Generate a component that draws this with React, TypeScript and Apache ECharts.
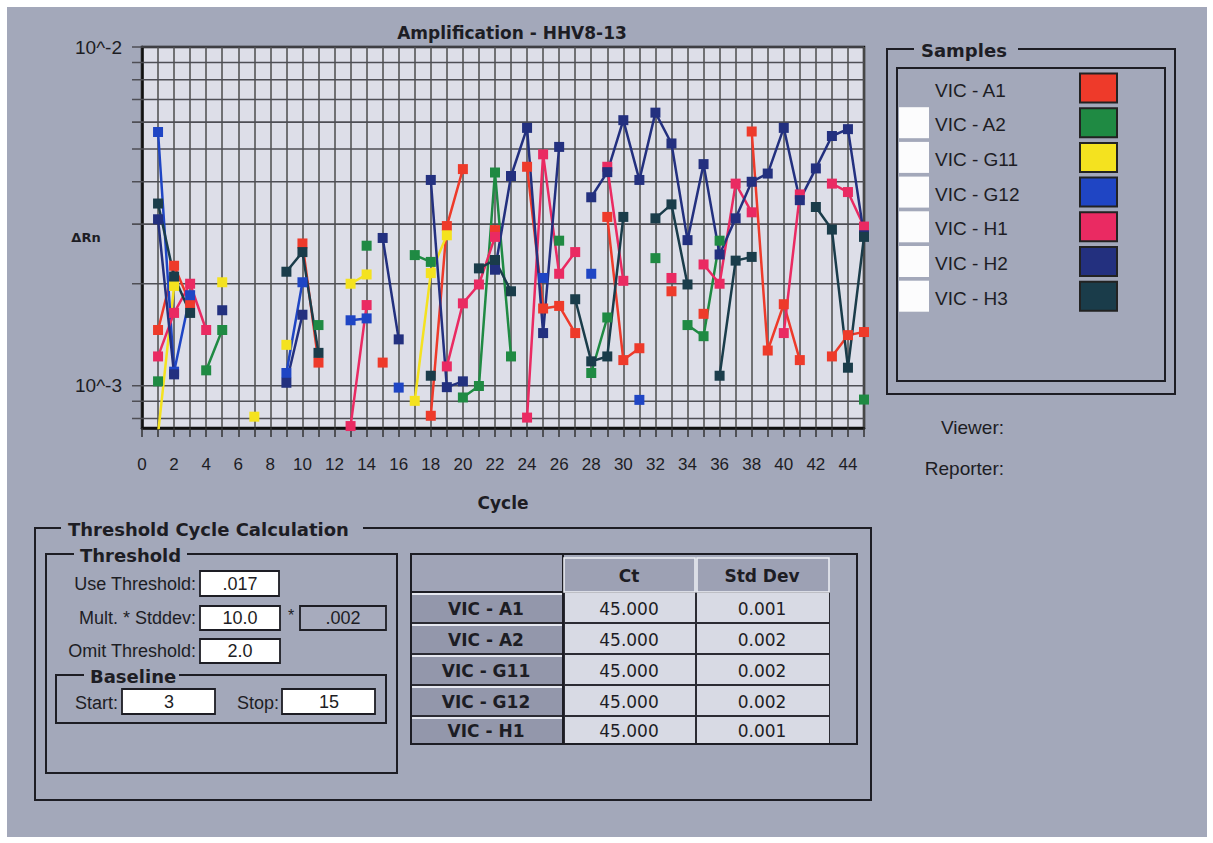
import React, { useEffect, useRef } from "react";
import * as echarts from "echarts";

// ---------- data ----------
const seriesNames = ["VIC - A1", "VIC - A2", "VIC - G11", "VIC - G12", "VIC - H1", "VIC - H2", "VIC - H3"];
const seriesColors = ["#ee3a2a", "#1f8a43", "#f4e21f", "#1f45c4", "#ea2a62", "#23307f", "#1a3c4a"];

// [cycle, ΔRn]
const A1: [number, number][] = [[1,1.46e-3],[2,2.26e-3],[3,1.75e-3],[10,2.63e-3],[11,1.17e-3],[15,1.17e-3],[18,8.15e-4],[19,2.96e-3],[20,4.36e-3],[22,2.88e-3],[24,4.43e-3],[25,1.69e-3],[26,1.72e-3],[27,1.43e-3],[29,3.15e-3],[30,1.19e-3],[31,1.29e-3],[33,1.9e-3],[35,1.63e-3],[38,5.63e-3],[39,1.27e-3],[40,1.74e-3],[41,1.19e-3],[43,1.22e-3],[44,1.41e-3],[45,1.44e-3]];
const A2: [number, number][] = [[1,1.03e-3],[4,1.11e-3],[5,1.46e-3],[11,1.51e-3],[14,2.59e-3],[17,2.43e-3],[18,2.32e-3],[20,9.23e-4],[21,9.98e-4],[22,4.26e-3],[23,1.22e-3],[26,2.68e-3],[28,1.09e-3],[29,1.59e-3],[32,2.38e-3],[34,1.51e-3],[35,1.4e-3],[36,2.68e-3],[45,9.1e-4]];
const G11: [number, number][] = [[1,7.2e-4],[2,1.97e-3],[5,2.02e-3],[7,8.1e-4],[9,1.32e-3],[13,2.0e-3],[14,2.13e-3],[17,9.02e-4],[18,2.15e-3],[19,2.78e-3]];
const G12: [number, number][] = [[1,5.61e-3],[2,1.1e-3],[3,1.85e-3],[9,1.09e-3],[10,2.02e-3],[13,1.56e-3],[14,1.58e-3],[16,9.87e-4],[25,2.08e-3],[28,2.14e-3],[31,9.08e-4]];
const H1: [number, number][] = [[1,1.22e-3],[2,1.64e-3],[3,2.0e-3],[4,1.46e-3],[13,7.6e-4],[14,1.73e-3],[19,1.14e-3],[20,1.75e-3],[21,1.99e-3],[22,2.75e-3],[24,8.05e-4],[25,4.82e-3],[26,2.14e-3],[27,2.48e-3],[29,4.43e-3],[30,2.04e-3],[33,2.08e-3],[35,2.28e-3],[36,2.0e-3],[37,3.95e-3],[38,3.25e-3],[40,1.43e-3],[41,3.67e-3],[43,3.95e-3],[44,3.73e-3],[45,2.95e-3]];
const H2: [number, number][] = [[1,3.1e-3],[2,1.08e-3],[5,1.67e-3],[9,1.02e-3],[10,1.62e-3],[15,2.73e-3],[16,1.37e-3],[18,4.05e-3],[19,9.9e-4],[20,1.03e-3],[22,2.2e-3],[23,4.16e-3],[24,5.77e-3],[25,1.43e-3],[26,5.07e-3],[28,3.6e-3],[29,4.27e-3],[30,6.08e-3],[31,4.05e-3],[32,6.4e-3],[33,5.19e-3],[34,2.69e-3],[35,4.51e-3],[36,2.44e-3],[37,3.12e-3],[38,4.0e-3],[39,4.23e-3],[40,5.77e-3],[41,3.53e-3],[42,4.38e-3],[43,5.46e-3],[44,5.72e-3],[45,2.78e-3]];
const H3: [number, number][] = [[1,3.45e-3],[2,2.1e-3],[3,1.64e-3],[9,2.17e-3],[10,2.48e-3],[11,1.25e-3],[18,1.07e-3],[21,2.22e-3],[22,2.35e-3],[23,1.9e-3],[27,1.8e-3],[28,1.18e-3],[29,1.22e-3],[30,3.15e-3],[32,3.12e-3],[33,3.43e-3],[34,1.99e-3],[36,1.07e-3],[37,2.34e-3],[38,2.4e-3],[42,3.37e-3],[43,2.89e-3],[44,1.13e-3],[45,2.75e-3]];
const seriesData = [A1, A2, G11, G12, H1, H2, H3];

const cycleMin = 0;
const cycleMax = 45;
const yMin = 0.00075;
const yMax = 0.01;
const gridValues = [0.0008, 0.0009, 0.001, 0.002, 0.003, 0.004, 0.005, 0.006, 0.007, 0.008, 0.009, 0.01];

const tableRows = ["VIC - A1", "VIC - A2", "VIC - G11", "VIC - G12", "VIC - H1"];
const ctValues = ["45.000", "45.000", "45.000", "45.000", "45.000"];
const stdDevValues = ["0.001", "0.002", "0.002", "0.002", "0.001"];

const useThreshold = ".017";
const multStddev = "10.0";
const stddevValue = ".002";
const omitThreshold = "2.0";
const baselineStart = "3";
const baselineStop = "15";

// ---------- styling ----------
const DJ = '"DejaVu Sans", sans-serif';
const LS = '"Liberation Sans", Arial, sans-serif';
const INK = "#1d1d24";
const PANEL = "#a3a8ba";

function txt(x: number, y: number, t: string, size: number, o: any = {}) {
  return {
    type: "text",
    x,
    y,
    silent: true,
    z: 7,
    style: {
      text: t,
      fill: o.fill || INK,
      fontSize: size,
      fontWeight: o.bold ? "bold" : "normal",
      fontFamily: o.family || LS,
      textAlign: o.align || "left",
      textVerticalAlign: "middle",
    },
  };
}
function box(x: number, y: number, w: number, h: number, o: any = {}) {
  return {
    type: "rect",
    silent: true,
    z: o.z ?? 5,
    shape: { x, y, width: w, height: h },
    style: { fill: o.fill ?? "none", stroke: o.stroke ?? INK, lineWidth: o.lw ?? 2 },
  };
}
function hline(x1: number, y: number, x2: number, color: string, w: number) {
  return { type: "line", silent: true, z: 6, shape: { x1, y1: y, x2, y2: y }, style: { stroke: color, lineWidth: w } };
}

function buildSeries(pairs: [number, number][]) {
  const map = new Map(pairs.map((p) => [p[0], p[1]]));
  const out: any[] = [];
  for (let c = cycleMin; c <= cycleMax; c++) {
    out.push(map.has(c) ? [c, map.get(c)] : [c, "-"]);
  }
  return out;
}

function buildGraphics() {
  const el: any[] = [];
  // Samples panel
  el.push(box(887, 49, 288, 345));
  el.push(box(897, 68, 268, 313));
  el.push(box(914, 40, 104, 18, { fill: PANEL, stroke: "none", lw: 0, z: 6 }));
  el.push(txt(921, 50, "Samples", 18, { bold: true, family: DJ }));
  seriesNames.forEach((name, i) => {
    const cy = 88 + i * 34.7;
    if (i > 0) el.push(box(899, cy - 15.5, 30, 31, { fill: "#fcfcfd", stroke: "none", lw: 0 }));
    el.push(txt(935, cy + 2, name, 19));
    el.push(box(1080, cy - 14.5, 37, 29, { fill: seriesColors[i], stroke: "#222", lw: 2 }));
  });
  el.push(txt(1004, 427, "Viewer:", 19, { align: "right" }));
  el.push(txt(1004, 468, "Reporter:", 19, { align: "right" }));

  // Threshold Cycle Calculation panel
  el.push(box(35, 528, 836, 272));
  el.push(box(61, 519, 302, 18, { fill: PANEL, stroke: "none", lw: 0, z: 6 }));
  el.push(txt(68, 529, "Threshold Cycle Calculation", 18, { bold: true, family: DJ }));

  el.push(box(46, 554, 351, 219));
  el.push(box(74, 546, 113, 17, { fill: PANEL, stroke: "none", lw: 0, z: 6 }));
  el.push(txt(80, 555, "Threshold", 18, { bold: true, family: DJ }));

  el.push(txt(196, 584, "Use Threshold:", 18, { align: "right" }));
  el.push(box(200, 571, 79, 25, { fill: "#ffffff", lw: 1.8 }));
  el.push(txt(240, 584, useThreshold, 18, { align: "center" }));

  el.push(txt(196, 618, "Mult. * Stddev:", 18, { align: "right" }));
  el.push(box(200, 606, 80, 24, { fill: "#ffffff", lw: 1.8 }));
  el.push(txt(240, 618, multStddev, 18, { align: "center" }));
  el.push(txt(291, 615, "*", 16, { align: "center" }));
  el.push(box(300, 606, 86, 24, { fill: "#a7abbd", lw: 1.8 }));
  el.push(txt(343, 618, stddevValue, 18, { align: "center" }));

  el.push(txt(196, 651, "Omit Threshold:", 18, { align: "right" }));
  el.push(box(200, 639, 80, 24, { fill: "#ffffff", lw: 1.8 }));
  el.push(txt(240, 651, omitThreshold, 18, { align: "center" }));

  el.push(box(56, 675, 330, 48));
  el.push(box(84, 667, 95, 17, { fill: PANEL, stroke: "none", lw: 0, z: 6 }));
  el.push(txt(90, 676, "Baseline", 18, { bold: true, family: DJ }));
  el.push(txt(118, 703, "Start:", 18, { align: "right" }));
  el.push(box(122, 689, 93, 25, { fill: "#ffffff", lw: 1.8 }));
  el.push(txt(169, 702, baselineStart, 18, { align: "center" }));
  el.push(txt(279, 703, "Stop:", 18, { align: "right" }));
  el.push(box(282, 689, 93, 25, { fill: "#ffffff", lw: 1.8 }));
  el.push(txt(329, 702, baselineStop, 18, { align: "center" }));

  // table
  el.push(box(411, 554, 446, 190, { fill: PANEL }));
  el.push(box(412, 592, 418, 151, { fill: "#2b2b33", stroke: "none", lw: 0, z: 5 }));
  el.push(box(412, 555, 150, 36, { fill: "#a0a4b7", stroke: "none", lw: 0, z: 6 }));
  el.push(hline(411, 592, 563, INK, 2));
  el.push({ type: "line", silent: true, z: 6, shape: { x1: 563, y1: 555, x2: 563, y2: 743 }, style: { stroke: INK, lineWidth: 2 } });
  el.push(box(564, 558, 131, 34, { fill: "#9da1b4", stroke: "#eef0f5", lw: 1.5, z: 6 }));
  el.push(box(697, 558, 132, 34, { fill: "#9da1b4", stroke: "#eef0f5", lw: 1.5, z: 6 }));
  el.push(txt(629, 576, "Ct", 17, { bold: true, family: DJ, align: "center" }));
  el.push(txt(762, 576, "Std Dev", 17, { bold: true, family: DJ, align: "center" }));
  tableRows.forEach((name, r) => {
    const y0 = 593 + r * 31;
    const h = Math.min(29, 743 - y0);
    el.push(box(412, y0 + 1, 150, h - 1, { fill: "#9397ab", stroke: "none", lw: 0, z: 6 }));
    el.push(hline(412, y0 + 1, 562, "#e6e8f0", 2));
    el.push(box(565, y0, 130, h, { fill: "#d8dae4", stroke: "none", lw: 0, z: 6 }));
    el.push(box(697, y0, 132, h, { fill: "#d8dae4", stroke: "none", lw: 0, z: 6 }));
    const cy = y0 + h / 2 + 1;
    el.push(txt(486, cy, name, 17, { bold: true, family: DJ, align: "center" }));
    el.push(txt(629, cy, ctValues[r], 17, { family: DJ, align: "center" }));
    el.push(txt(762, cy, stdDevValues[r], 17, { family: DJ, align: "center" }));
  });

  // y-axis name
  el.push(txt(86, 237, "ΔRn", 13, { bold: true, family: DJ, align: "center" }));
  return el;
}

export default function App() {
  const ref = useRef<HTMLDivElement>(null);
  useEffect(() => {
    if (!ref.current) return;
    const chart = echarts.init(ref.current, undefined, { renderer: "svg" });
    const lineSeries = seriesNames.map((name, i) => ({
      type: "line",
      name,
      data: buildSeries(seriesData[i]),
      symbol: "rect",
      symbolSize: 10,
      showSymbol: true,
      connectNulls: false,
      clip: true,
      z: 3,
      itemStyle: { color: seriesColors[i] },
      lineStyle: { color: seriesColors[i], width: 2.5 },
      emphasis: { disabled: true },
    }));
    chart.setOption({
      animation: false,
      title: {
        text: "Amplification - HHV8-13",
        left: 507,
        top: 19,
        textAlign: "center",
        textStyle: { fontFamily: DJ, fontSize: 17, fontWeight: "bold", color: INK },
      },
      grid: {
        left: 142,
        top: 47,
        width: 722,
        height: 381,
        show: true,
        backgroundColor: "#dddee8",
        borderColor: "#111",
        borderWidth: 2.5,
      },
      xAxis: {
        type: "value",
        min: cycleMin,
        max: cycleMax,
        interval: 1,
        name: "Cycle",
        nameLocation: "middle",
        nameGap: 66,
        nameTextStyle: { fontFamily: DJ, fontSize: 17, fontWeight: "bold", color: INK },
        axisLine: { show: true, lineStyle: { color: "#111", width: 2.5 } },
        axisTick: { show: true, length: 9, lineStyle: { color: "#333", width: 1.5 } },
        axisLabel: {
          formatter: (v: number) => (v % 2 === 0 && v <= 44 ? String(v) : ""),
          fontFamily: LS,
          fontSize: 17,
          color: INK,
          margin: 28,
        },
        splitLine: { show: true, lineStyle: { color: "#555", width: 1.6 } },
      },
      yAxis: {
        type: "log",
        logBase: 10,
        min: yMin,
        max: yMax,
        axisLine: { show: true, lineStyle: { color: "#111", width: 2.5 } },
        axisTick: { show: false },
        splitLine: { show: false },
        axisLabel: {
          formatter: (v: number) => {
            const e = Math.log10(v);
            return Math.abs(e - Math.round(e)) < 1e-6 ? "10^" + Math.round(e) : "";
          },
          fontFamily: LS,
          fontSize: 19,
          color: INK,
          margin: 20,
        },
      },
      series: [
        {
          type: "custom",
          name: "grid",
          silent: true,
          z: 1,
          clip: false,
          data: gridValues.map((v) => [cycleMin, v]),
          encode: { x: 0, y: 1 },
          renderItem: (params: any, api: any) => {
            const y = api.coord([cycleMin, api.value(1)])[1];
            const cs = params.coordSys;
            return {
              type: "line",
              shape: { x1: cs.x - 10, y1: y, x2: cs.x + cs.width, y2: y },
              style: { stroke: "#4e4e55", lineWidth: 1.6 },
            };
          },
        },
        ...lineSeries,
      ],
      graphic: { elements: buildGraphics() },
    });
    return () => chart.dispose();
  }, []);

  return (
    <div style={{ position: "fixed", left: 0, top: 0, width: 1213, height: 843, background: "#ffffff" }}>
      <div style={{ position: "absolute", left: 7, top: 7, width: 1200, height: 830, background: PANEL }} />
      <div ref={ref} style={{ position: "absolute", left: 0, top: 0, width: 1213, height: 843 }} />
    </div>
  );
}
